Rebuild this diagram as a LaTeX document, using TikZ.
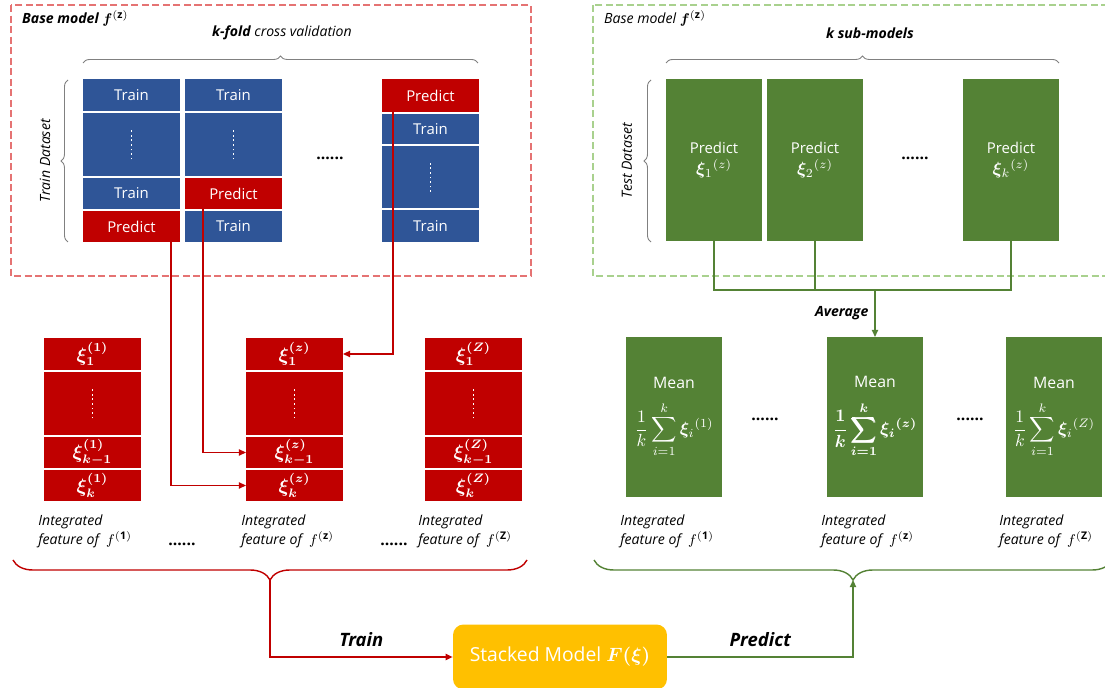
\documentclass[tikz,border=0pt]{standalone}
\usepackage{amsmath,bm}
\usepackage{fontspec}
\setmainfont{Open Sans}
\usetikzlibrary{calc, positioning, arrows.meta, decorations.pathreplacing}

\definecolor{trainblue}{HTML}{2F5597}
\definecolor{predred}{HTML}{C00000}
\definecolor{testgreen}{HTML}{548235}
\definecolor{stackyellow}{HTML}{FFC000}
\definecolor{lightred}{HTML}{E57373}
\definecolor{lightgreen}{HTML}{A9D18E}

\begin{document}
\begin{tikzpicture}[
					x=0.02cm, y=-0.02cm,
					font=\fontsize{8}{10}\selectfont,
					cell/.style={
						rectangle,
						inner sep=0pt,
						outer sep=0pt,
						minimum width=1.94cm,
						text=white,
						align=center,
						anchor=north west,
						font=\fontsize{8.5}{11}\selectfont
					},
					trainbox/.style={cell, fill=trainblue},
					predbox/.style={cell, fill=predred, font=\fontsize{8.5}{10}\selectfont},
					greenbox/.style={cell, fill=testgreen, minimum width=1.92cm},
					dotbox/.style={
						path picture={\draw[white, line width=1pt, dash pattern=on 1pt off 1.6pt]
							([yshift=-0.3cm]path picture bounding box.center) --
							([yshift=0.3cm]path picture bounding box.center);}
					},
					featlab/.style={anchor=north west, align=left, inner sep=0pt,
						font=\fontsize{8}{11}\selectfont\itshape},
					hdots/.style={font=\fontsize{9}{10}\selectfont\bfseries},
					thinbrace/.style={draw=gray, line width=0.5pt, decorate,
						decoration={brace, amplitude=4pt}},
					redline/.style={draw=predred, line width=0.9pt},
					greenline/.style={draw=testgreen, line width=0.9pt},
					tip/.style={-{Triangle[length=4pt, width=3.5pt]}}
					]
					\useasboundingbox (0,0) rectangle (1105,688);
					
					% Dashed frames
					\draw[lightred, line width=0.9pt, dash pattern=on 4pt off 2pt] (11,5) rectangle (531,276);
					\draw[lightgreen, line width=0.9pt, dash pattern=on 4pt off 2pt] (593,5) rectangle (1112,276);
					\node[anchor=west] (basel) at (16,18) {\bfseries\itshape Base model $\bm{f}^{(\mathbf{z})}$};
					\node[anchor=west] (baser) at (598,18) {\itshape Base model $\bm{f}^{(\mathbf{z})}$};
					
					% k-fold cross validation
					\node[trainbox, minimum height=0.64cm] (a1) at (83,79) {Train};
					\node[trainbox, dotbox, minimum height=1.26cm] (a2) at (83,113) {};
					\node[trainbox, minimum height=0.62cm] (a3) at (83,178) {Train};
					\node[predbox, minimum height=0.62cm] (a4) at (83,211) {Predict};
					
					\node[trainbox, minimum height=0.64cm] (b1) at (185,79) {Train};
					\node[trainbox, dotbox, minimum height=1.26cm] (b2) at (185,113) {};
					\node[predbox, minimum height=0.62cm] (b3) at (185,178) {Predict};
					\node[trainbox, minimum height=0.62cm] (b4) at (185,211) {Train};
					
					\node[predbox, minimum height=0.66cm] (c1) at (382,79) {Predict};
					\node[trainbox, minimum height=0.6cm] (c2) at (382,114) {Train};
					\node[trainbox, dotbox, minimum height=1.24cm] (c3) at (382,146) {};
					\node[trainbox, minimum height=0.64cm] (c4) at (382,210) {Train};
					
					\node[hdots] (kdots) at (330,158) {......};
					\node (kfold) at (282,33) {\bfseries\itshape k-fold \mdseries cross validation};
					\draw[thinbrace] (83,63) -- (478,63);
					\draw[thinbrace] (68,242) -- (68,80);
					\node[rotate=90, font=\fontsize{8}{10}\selectfont\itshape] (trainset) at (45,161) {Train Dataset};
					
					% k sub-models
					\node[greenbox, minimum height=3.24cm] (g1) at (666,79) {Predict\\[1pt]{\fontsize{10}{12}\selectfont$\bm{\xi}_1{}^{(z)}$}};
					\node[greenbox, minimum height=3.24cm] (g2) at (767,79) {Predict\\[1pt]{\fontsize{10}{12}\selectfont$\bm{\xi}_2{}^{(z)}$}};
					\node[greenbox, minimum height=3.24cm] (g3) at (963,79) {Predict\\[1pt]{\fontsize{10}{12}\selectfont$\bm{\xi}_k{}^{(z)}$}};
					\node[hdots] (gdots) at (915,158) {......};
					\node (ksub) at (870,33) {\bfseries\itshape k sub-models};
					\draw[thinbrace] (666,63) -- (1059,63);
					\draw[thinbrace] (651,242) -- (651,80);
					\node[rotate=90, font=\fontsize{8}{10}\selectfont\itshape] (testset) at (627,161) {Test Dataset};
					
					% Integrated features (train)
					\foreach \col/\x/\idx in {u/44/1, v/246/z, w/425/Z}{
						\node[predbox, minimum height=0.64cm] (\col1) at (\x,338) {{\fontsize{10.5}{12}\selectfont$\bm{\xi^{(\idx)}_{1}}$}};
						\node[predbox, dotbox, minimum height=1.26cm] (\col2) at (\x,372) {};
						\node[predbox, minimum height=0.62cm] (\col3) at (\x,437) {{\fontsize{10.5}{12}\selectfont$\bm{\xi^{(\idx)}_{k-1}}$}};
						\node[predbox, minimum height=0.62cm] (\col4) at (\x,470) {{\fontsize{10.5}{12}\selectfont$\bm{\xi^{(\idx)}_{k}}$}};
					}
					\node[featlab] (lu) at (38,514) {Integrated\\feature of \ $f^{(\mathbf{1})}$};
					\node[featlab] (lv) at (241,514) {Integrated\\feature of \ $f^{(\mathbf{z})}$};
					\node[featlab] (lw) at (418,514) {Integrated\\feature of \ $f^{(\mathbf{Z})}$};
					\node[hdots] (udots) at (182,544) {......};
					\node[hdots] (vdots) at (394,544) {......};
					
					% Integrated features (test)
					\node[greenbox, minimum height=3.2cm, font=\fontsize{9}{11}\selectfont] (m1) at (626,337) {Mean\\[7pt]{\fontsize{10}{12}\selectfont$\displaystyle\frac{1}{k}\sum_{i=1}^{k}\bm{\xi}_i{}^{(1)}$}};
					\node[greenbox, minimum height=3.2cm, font=\fontsize{9}{11}\selectfont] (m2) at (827,337) {Mean\\[7pt]{\fontsize{10}{12}\selectfont$\displaystyle\bm{\frac{1}{k}\sum_{i=1}^{k}\xi_i{}^{(z)}}$}};
					\node[greenbox, minimum height=3.2cm, font=\fontsize{9}{11}\selectfont] (m3) at (1006,337) {Mean\\[7pt]{\fontsize{10}{12}\selectfont$\displaystyle\frac{1}{k}\sum_{i=1}^{k}\bm{\xi}_i{}^{(Z)}$}};
					\node[hdots] (mdots1) at (765,419) {......};
					\node[hdots] (mdots2) at (970,419) {......};
					\node[featlab] (lm1) at (620,514) {Integrated\\feature of \ $f^{(\mathbf{1})}$};
					\node[featlab] (lm2) at (821,514) {Integrated\\feature of \ $f^{(\mathbf{z})}$};
					\node[featlab] (lm3) at (999,514) {Integrated\\feature of \ $f^{(\mathbf{Z})}$};
					
					% Predict -> feature arrows
					\draw[redline, tip] ([xshift=1.76cm]a4.south west) |- (v4.west);
					\draw[redline, tip] ([xshift=0.36cm]b3.south west) |- (v3.west);
					\draw[redline, tip] ([xshift=0.22cm]c1.south west) |- (v1.east);
					
					% Average
					\coordinate (join) at (876,290);
					\draw[greenline] (g1.south) |- (join) -| (g3.south);
					\draw[greenline] (g2.south) -- (g2.south |- join);
					\draw[greenline, tip] (m2.north |- join) -- (m2.north)
						node[midway, left, font=\fontsize{8}{10}\selectfont\bfseries\itshape] {Average};
					
					% Stacking
					\draw[predred, line width=0.8pt, decorate, decoration={brace, amplitude=0.4cm}] (527,560) -- (13,560);
					\draw[testgreen, line width=0.8pt, decorate, decoration={brace, amplitude=0.4cm}] (1112,560) -- (594,560);
					\coordinate (rtip) at (270,580);
					\coordinate (gtip) at (853,580);
					\node[rectangle, rounded corners=6pt, fill=stackyellow, text=white,
						minimum width=4.28cm, minimum height=1.3cm,
						font=\fontsize{11}{13}\selectfont] (stacked) at (560,657) {Stacked Model $\bm{F(\xi)}$};
					\draw[redline, tip] (rtip) |- (stacked.west)
						node[pos=0.75, above=2pt, font=\fontsize{10.5}{12}\selectfont\bfseries\itshape] {Train};
					\draw[greenline, tip] (stacked.east) -| (gtip)
						node[pos=0.25, above=2pt, font=\fontsize{10.5}{12}\selectfont\bfseries\itshape] {Predict};
					
				\end{tikzpicture}
\end{document}
